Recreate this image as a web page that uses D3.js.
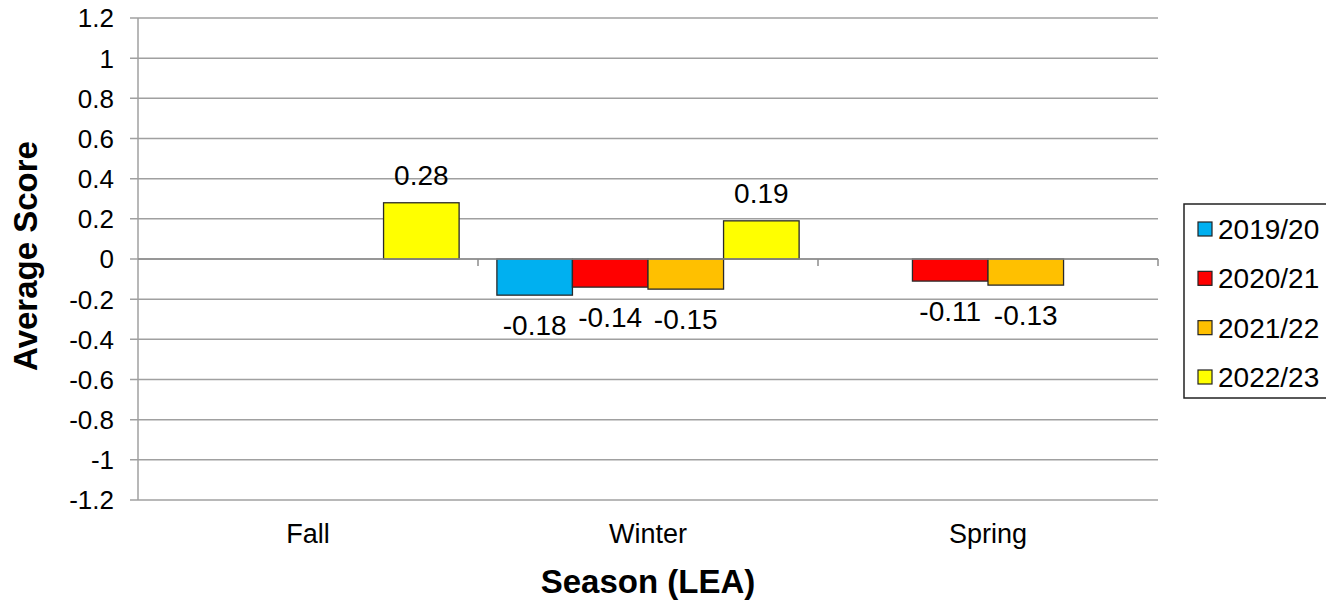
<!DOCTYPE html>
<html>
<head>
<meta charset="utf-8">
<script src="https://cdn.jsdelivr.net/npm/d3@7"></script>
<style>
  html, body { margin: 0; padding: 0; background: #fff; }
  svg { display: block; font-family: "Liberation Sans", Arial, sans-serif; }
</style>
</head>
<body>
<svg id="chart" width="1326" height="600"></svg>
<script>
const categories = ["Fall", "Winter", "Spring"];
const seriesNames = ["2019/20", "2020/21", "2021/22", "2022/23"];
const seriesColors = ["#00B0F0", "#FF0000", "#FFC000", "#FFFF00"];
// values per series, aligned with categories (null = no bar)
const s2019 = [null, -0.18, null];
const s2020 = [null, -0.14, -0.11];
const s2021 = [null, -0.15, -0.13];
const s2022 = [0.28, 0.19, null];
const yTicks = [1.2, 1, 0.8, 0.6, 0.4, 0.2, 0, -0.2, -0.4, -0.6, -0.8, -1, -1.2];
const yTitle = "Average Score";
const xTitle = "Season (LEA)";

const seriesValues = [s2019, s2020, s2021, s2022];

const svg = d3.select("#chart");
const pLeft = 138, pRight = 1158, pTop = 18, pBottom = 500;

const y = d3.scaleLinear().domain([-1.2, 1.2]).range([pBottom, pTop]);
const x = d3.scaleBand().domain(categories).range([pLeft, pRight]).padding(0);
const xi = d3.scaleBand().domain(seriesNames).range([0, x.bandwidth()]).paddingInner(0).paddingOuter(0.25);

const gridColor = "#a0a0a0";
const fmt = v => d3.format(".2f")(v).replace("\u2212", "-");

// gridlines + y ticks
svg.append("g").selectAll("line").data(yTicks).join("line")
  .attr("x1", pLeft - 8).attr("x2", pRight)
  .attr("y1", d => y(d)).attr("y2", d => y(d))
  .attr("stroke", gridColor).attr("stroke-width", 1.5);

// y tick labels
svg.append("g").selectAll("text").data(yTicks).join("text")
  .attr("x", 114).attr("y", d => y(d))
  .attr("dy", "0.36em")
  .attr("text-anchor", "end")
  .attr("font-size", 26).attr("fill", "#000")
  .text(d => String(d));

// y axis line
svg.append("line").attr("x1", pLeft).attr("x2", pLeft).attr("y1", pTop).attr("y2", pBottom)
  .attr("stroke", gridColor).attr("stroke-width", 1.5);

// bars
seriesNames.forEach((name, si) => {
  const data = categories.map((c, ci) => ({c, v: seriesValues[si][ci]})).filter(d => d.v !== null);
  const g = svg.append("g");
  g.selectAll("rect").data(data).join("rect")
    .attr("x", d => x(d.c) + xi(name))
    .attr("width", xi.bandwidth())
    .attr("y", d => y(Math.max(0, d.v)))
    .attr("height", d => Math.abs(y(d.v) - y(0)))
    .attr("fill", seriesColors[si])
    .attr("stroke", "#2a2a2a").attr("stroke-width", 1.3);
  g.selectAll("text").data(data).join("text")
    .attr("x", d => x(d.c) + xi(name) + xi.bandwidth() / 2)
    .attr("y", d => d.v >= 0 ? y(d.v) - 18 : y(d.v) + 40)
    .attr("text-anchor", "middle")
    .attr("font-size", 28).attr("fill", "#000")
    .text(d => fmt(d.v));
});

// zero axis line + category boundary ticks
svg.append("line").attr("x1", pLeft).attr("x2", pRight).attr("y1", y(0)).attr("y2", y(0))
  .attr("stroke", "#8c8c8c").attr("stroke-width", 1.5);
const bounds = categories.map(c => x(c)).concat([pRight]);
svg.append("g").selectAll("line").data(bounds.slice(1)).join("line")
  .attr("x1", d => d).attr("x2", d => d)
  .attr("y1", y(0)).attr("y2", y(0) + 7)
  .attr("stroke", "#8c8c8c").attr("stroke-width", 1.5);

// category labels
svg.append("g").selectAll("text").data(categories).join("text")
  .attr("x", d => x(d) + x.bandwidth() / 2).attr("y", 543)
  .attr("text-anchor", "middle").attr("font-size", 27).attr("fill", "#000")
  .text(d => d);

// axis titles
svg.append("text").attr("x", 648).attr("y", 593)
  .attr("text-anchor", "middle").attr("font-size", 33).attr("font-weight", "bold")
  .text(xTitle);
svg.append("text")
  .attr("transform", "translate(37,256) rotate(-90)")
  .attr("text-anchor", "middle").attr("font-size", 33).attr("font-weight", "bold")
  .text(yTitle);

// legend
const lg = svg.append("g");
lg.append("rect").attr("x", 1184).attr("y", 204).attr("width", 160).attr("height", 194)
  .attr("fill", "#fff").attr("stroke", "#222").attr("stroke-width", 1.5);
const ly = d3.scalePoint().domain(seriesNames).range([229, 377]);
seriesNames.forEach((name, si) => {
  lg.append("rect").attr("x", 1198).attr("y", ly(name) - 7).attr("width", 14).attr("height", 14)
    .attr("fill", seriesColors[si]).attr("stroke", "#222").attr("stroke-width", 1.2);
  lg.append("text").attr("x", 1218).attr("y", ly(name)).attr("dy", "0.36em")
    .attr("font-size", 28).attr("fill", "#000").text(name);
});
</script>
</body>
</html>
